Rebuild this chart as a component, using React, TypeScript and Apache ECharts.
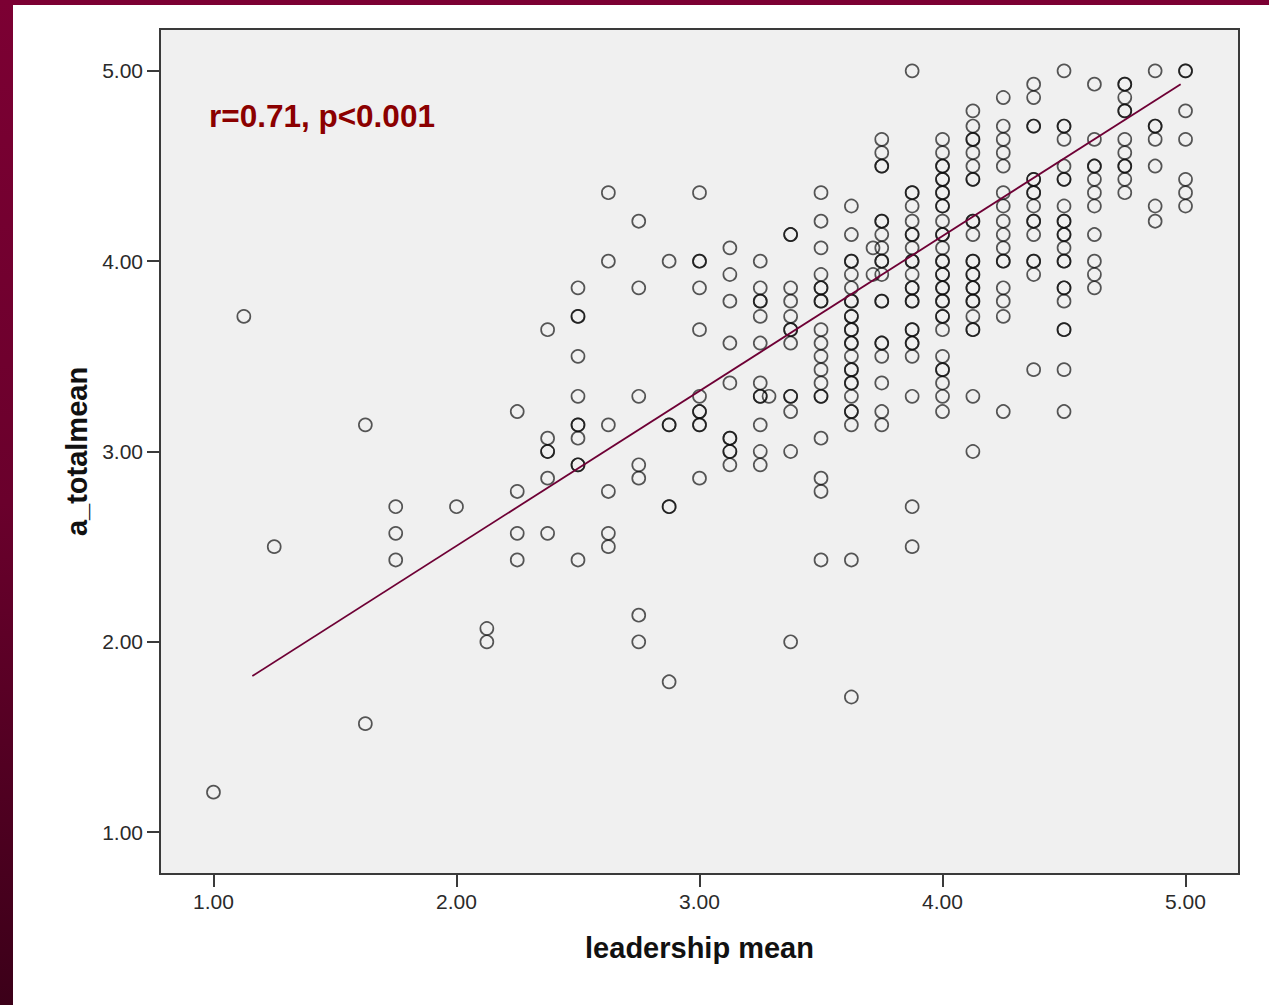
import React, { useEffect, useRef } from "react";
import * as echarts from "echarts";

// leadership mean levels (x) and a_totalmean values (y) observed at each level
const leadershipLevels = [
  1.0, 1.125, 1.25, 1.625, 1.75, 2.0, 2.125, 2.25, 2.375, 2.5, 2.625, 2.75, 2.875,
  3.0, 3.125, 3.25, 3.286, 3.375, 3.5, 3.625, 3.714, 3.75, 3.875, 4.0, 4.125, 4.25,
  4.375, 4.5, 4.625, 4.75, 4.875, 5.0,
];

const totalmeanColumns: number[][] = [
  [1.21],
  [3.71],
  [2.5],
  [3.14, 1.57],
  [2.71, 2.57, 2.43],
  [2.71],
  [2.07, 2.0],
  [3.21, 2.79, 2.57, 2.43],
  [3.64, 3.07, 3.0, 3.0, 2.86, 2.57],
  [3.86, 3.71, 3.71, 3.5, 3.29, 3.14, 3.14, 3.07, 2.93, 2.93, 2.43],
  [4.36, 4.0, 3.14, 2.79, 2.57, 2.5],
  [4.21, 3.86, 3.29, 2.93, 2.86, 2.14, 2.0],
  [4.0, 3.14, 3.14, 2.71, 2.71, 1.79],
  [4.36, 4.0, 4.0, 3.86, 3.64, 3.29, 3.21, 3.21, 3.14, 3.14, 2.86],
  [4.07, 3.93, 3.79, 3.57, 3.36, 3.07, 3.07, 3.0, 3.0, 2.93],
  [4.0, 3.86, 3.79, 3.79, 3.71, 3.57, 3.36, 3.29, 3.29, 3.14, 3.0, 2.93],
  [3.29],
  [4.14, 4.14, 3.86, 3.79, 3.71, 3.64, 3.64, 3.57, 3.29, 3.29, 3.21, 3.0, 2.0],
  [4.36, 4.21, 4.07, 3.93, 3.86, 3.86, 3.79, 3.79, 3.64, 3.57, 3.5, 3.43, 3.36, 3.29, 3.29, 3.07, 2.86, 2.79, 2.43],
  [4.29, 4.14, 4.0, 4.0, 3.93, 3.86, 3.79, 3.79, 3.71, 3.71, 3.64, 3.64, 3.57, 3.57, 3.5, 3.43, 3.43, 3.36, 3.36, 3.29, 3.21, 3.21, 3.14, 2.43, 1.71],
  [4.07, 3.93],
  [4.64, 4.57, 4.5, 4.5, 4.21, 4.21, 4.14, 4.07, 4.0, 4.0, 3.93, 3.79, 3.79, 3.57, 3.57, 3.5, 3.36, 3.21, 3.14],
  [5.0, 4.36, 4.36, 4.29, 4.21, 4.14, 4.14, 4.07, 4.0, 4.0, 3.93, 3.86, 3.86, 3.79, 3.79, 3.64, 3.64, 3.57, 3.57, 3.5, 3.29, 2.71, 2.5],
  [4.64, 4.57, 4.5, 4.5, 4.43, 4.43, 4.36, 4.36, 4.29, 4.29, 4.21, 4.14, 4.14, 4.07, 4.0, 4.0, 3.93, 3.93, 3.86, 3.86, 3.79, 3.79, 3.71, 3.71, 3.64, 3.5, 3.43, 3.43, 3.36, 3.29, 3.21],
  [4.79, 4.71, 4.64, 4.64, 4.57, 4.5, 4.43, 4.43, 4.21, 4.21, 4.14, 4.0, 4.0, 3.93, 3.93, 3.86, 3.86, 3.79, 3.79, 3.71, 3.64, 3.64, 3.29, 3.0],
  [4.86, 4.71, 4.64, 4.57, 4.5, 4.36, 4.29, 4.21, 4.14, 4.07, 4.0, 4.0, 3.86, 3.79, 3.71, 3.21],
  [4.93, 4.86, 4.71, 4.71, 4.43, 4.43, 4.36, 4.36, 4.29, 4.21, 4.21, 4.14, 4.0, 4.0, 3.93, 3.43],
  [5.0, 4.71, 4.71, 4.64, 4.5, 4.43, 4.43, 4.29, 4.21, 4.21, 4.14, 4.14, 4.07, 4.0, 4.0, 3.86, 3.86, 3.79, 3.64, 3.64, 3.43, 3.21],
  [4.93, 4.64, 4.5, 4.5, 4.43, 4.36, 4.29, 4.14, 4.0, 3.93, 3.86],
  [4.93, 4.93, 4.86, 4.79, 4.79, 4.64, 4.57, 4.5, 4.5, 4.43, 4.36],
  [5.0, 4.71, 4.71, 4.64, 4.5, 4.29, 4.21],
  [5.0, 5.0, 4.79, 4.64, 4.43, 4.36, 4.29],
];

// fitted regression line end points
const fitX = [1.16, 4.98];
const fitY = [1.82, 4.93];

const tickValues = [1, 2, 3, 4, 5];
const annotation = "r=0.71, p<0.001";

const FONT = '"Liberation Sans", Arial, sans-serif';

export default function App() {
  const ref = useRef<HTMLDivElement>(null);

  useEffect(() => {
    if (!ref.current) return;
    const chart = echarts.init(ref.current, null, { renderer: "svg" });

    const points: number[][] = [];
    leadershipLevels.forEach((x, i) => {
      totalmeanColumns[i].forEach((y) => points.push([x, y]));
    });
    const fit = fitX.map((x, i) => [x, fitY[i]]);

    const axisCommon = {
      type: "value" as const,
      min: 0.78,
      max: 5.22,
      splitLine: { show: false },
      axisLine: { show: true, lineStyle: { color: "#3a3a3a", width: 2 } },
      axisTick: {
        show: true,
        length: 13,
        customValues: tickValues,
        lineStyle: { color: "#3a3a3a", width: 2 },
      },
      axisLabel: {
        customValues: tickValues,
        formatter: (v: number) => v.toFixed(2),
        color: "#2a2a2a",
        fontSize: 21,
        fontFamily: FONT,
        margin: 17,
      },
      nameLocation: "middle" as const,
      nameTextStyle: {
        color: "#111",
        fontSize: 29,
        fontWeight: "bold" as const,
        fontFamily: FONT,
      },
    };

    chart.setOption({
      animation: false,
      backgroundColor: "#ffffff",
      grid: {
        left: 147,
        top: 24,
        right: 30,
        bottom: 131,
        show: true,
        backgroundColor: "#f0f0f0",
        borderColor: "#3a3a3a",
        borderWidth: 2,
      },
      xAxis: { ...axisCommon, name: "leadership mean", nameGap: 59 },
      yAxis: { ...axisCommon, name: "a_totalmean", nameGap: 64 },
      graphic: [
        {
          type: "text",
          left: 196,
          top: 95,
          style: {
            text: annotation,
            fill: "#8b0000",
            font: `bold 31.5px ${FONT}`,
          },
        },
      ],
      series: [
        {
          type: "scatter",
          data: points,
          symbol: "circle",
          symbolSize: 13,
          itemStyle: {
            color: "rgba(0,0,0,0)",
            borderColor: "rgba(10,10,10,0.85)",
            borderWidth: 1.7,
          },
          silent: true,
        },
        {
          type: "line",
          data: fit,
          symbol: "none",
          lineStyle: { color: "#6e0035", width: 1.8 },
          silent: true,
          z: 5,
        },
      ],
    });

    return () => chart.dispose();
  }, []);

  return (
    <div
      style={{
        position: "fixed",
        left: 0,
        top: 0,
        width: 1269,
        height: 1005,
        background: "linear-gradient(to bottom, #7c0033 0%, #6a002c 50%, #3c0019 100%)",
      }}
    >
      <div
        ref={ref}
        style={{
          position: "absolute",
          left: 13,
          top: 5,
          width: 1256,
          height: 1000,
          background: "#ffffff",
        }}
      />
    </div>
  );
}
